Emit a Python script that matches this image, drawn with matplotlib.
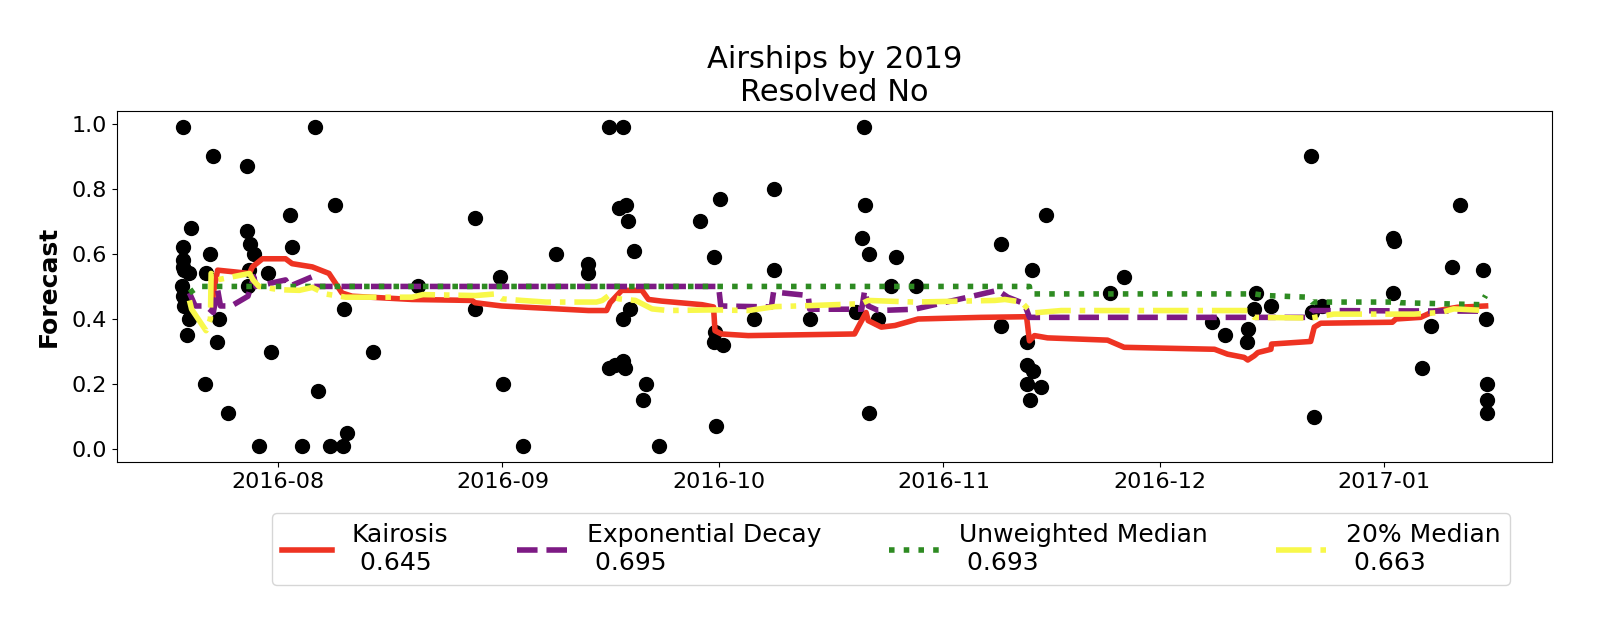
import matplotlib
matplotlib.use("Agg")
import matplotlib.pyplot as plt
import matplotlib.dates as mdates
import pandas as pd

# time axis is kept as days counted from 2016-08-01
start = pd.Timestamp("2016-08-01")

# individual forecasts (black dots)
fc_days = [-13.2, -13.2, -13.2, -13.2, -13.1, -13.3, -13.2, -13.0, -12.3, -12.6, -12.4, -12.1,
           -10.1, -10.0, -9.5, -9.1, -8.2, -8.5, -7.0,
           -4.4, -4.3, -3.9, -3.4, -4.0, -4.2, -2.7, -1.5, -1.0,
           1.6, 1.9, 3.3, 5.1, 5.5, 7.2, 7.9, 8.9, 9.1, 9.5, 13.1,
           19.3, 27.2, 27.2, 30.7, 31.1, 33.9, 38.4, 42.9, 42.9,
           45.7, 47.7, 47.1, 48.1, 48.3, 49.2, 48.7, 47.7,
           45.7, 46.6, 47.7, 47.9, 50.8, 50.4, 52.7,
           58.3, 60.2, 61.1, 60.4, 60.2, 61.5, 60.5, 65.8, 68.6, 68.6, 73.5,
           79.9, 80.7, 81.0, 81.1, 81.7, 81.7, 83.0, 85.4, 84.8, 88.2,
           99.9, 99.9, 103.6, 104.2, 106.2, 103.6, 104.4, 103.6, 105.5, 104.0,
           115.1, 117.0,
           129.2, 130.9, 134.1, 134.0, 135.2, 135.0, 137.3,
           142.8, 143.2, 143.0, 144.4,
           154.2, 154.3, 154.2, 158.2, 159.5, 162.4, 163.4,
           166.6, 167.0, 167.2, 167.2, 167.2]
fc_vals = [0.99, 0.62, 0.58, 0.56, 0.55, 0.50, 0.47, 0.44, 0.40, 0.35, 0.54, 0.68,
           0.20, 0.54, 0.60, 0.90, 0.40, 0.33, 0.11,
           0.87, 0.67, 0.63, 0.60, 0.55, 0.50, 0.01, 0.54, 0.30,
           0.72, 0.62, 0.01, 0.99, 0.18, 0.01, 0.75, 0.01, 0.43, 0.05, 0.30,
           0.50, 0.71, 0.43, 0.53, 0.20, 0.01, 0.60, 0.57, 0.54,
           0.99, 0.99, 0.74, 0.75, 0.70, 0.61, 0.43, 0.40,
           0.25, 0.26, 0.27, 0.25, 0.20, 0.15, 0.01,
           0.70, 0.59, 0.77, 0.36, 0.33, 0.32, 0.07, 0.40, 0.80, 0.55, 0.40,
           0.42, 0.65, 0.99, 0.75, 0.60, 0.11, 0.40, 0.59, 0.50, 0.50,
           0.63, 0.38, 0.33, 0.55, 0.72, 0.26, 0.24, 0.20, 0.19, 0.15,
           0.48, 0.53,
           0.39, 0.35, 0.37, 0.33, 0.48, 0.43, 0.44,
           0.90, 0.10, 0.42, 0.44,
           0.65, 0.64, 0.48, 0.25, 0.38, 0.56, 0.75,
           0.55, 0.40, 0.20, 0.15, 0.11]

# Kairosis
k_days = [-9.1, -9.0, -8.4, -4.0, -3.6, -2.2, 1.0, 1.9, 4.7, 7.0,
          7.6, 8.8, 10.2, 18.5, 26.8, 27.2, 30.9, 42.9, 45.4, 45.9,
          47.5, 50.3, 51.2, 53.0, 58.6, 60.2, 60.4, 61.3, 65.0, 79.7,
          80.2, 81.3, 81.6, 83.4, 85.3, 88.5, 97.2, 103.5, 103.9, 104.6,
          106.4, 114.7, 117.0, 129.5, 131.3, 133.6, 134.1, 135.0, 135.5, 137.3,
          137.4, 142.8, 143.3, 144.2, 154.1, 154.6, 158.0, 159.9, 163.1, 167.0]
k_vals = [0.44, 0.48, 0.55, 0.54, 0.56, 0.585, 0.585, 0.57, 0.56, 0.54,
          0.52, 0.48, 0.47, 0.46, 0.457, 0.45, 0.44, 0.426, 0.426, 0.45,
          0.488, 0.488, 0.46, 0.455, 0.444, 0.437, 0.364, 0.354, 0.349, 0.354,
          0.375, 0.42, 0.395, 0.375, 0.38, 0.40, 0.405, 0.407, 0.333, 0.349,
          0.342, 0.335, 0.313, 0.307, 0.292, 0.282, 0.274, 0.287, 0.297, 0.307,
          0.323, 0.331, 0.375, 0.387, 0.39, 0.40, 0.405, 0.424, 0.436, 0.44]

# Exponential Decay
e_days = [-12.3, -11.5, -10.0, -9.0, -8.4, -8.0, -6.5, -4.2, -3.4, -3.1,
          1.0, 1.5, 4.7, 4.9, 60.9, 61.2, 68.2, 68.5, 73.3, 73.5,
          80.7, 81.1, 81.6, 83.0, 88.0, 95.4, 99.5, 100.9, 103.2, 103.9,
          142.4, 143.0, 167.0]
e_vals = [0.48, 0.44, 0.44, 0.42, 0.49, 0.44, 0.44, 0.47, 0.53, 0.50,
          0.52, 0.50, 0.53, 0.50, 0.50, 0.44, 0.437, 0.483, 0.472, 0.43,
          0.43, 0.488, 0.44, 0.426, 0.43, 0.467, 0.488, 0.467, 0.447, 0.405,
          0.405, 0.426, 0.424]

# Unweighted Median
u_days = [-12.3, -11.0, -10.0, 103.9, 104.0, 135.0, 136.6, 142.4, 143.0, 154.8, 155.2, 166.3, 167.0]
u_vals = [0.48, 0.50, 0.50, 0.50, 0.477, 0.477, 0.472, 0.467, 0.452, 0.452, 0.45, 0.444, 0.472]

# 20% Median
m_days = [-12.3, -12.0, -10.0, -9.4, -9.3, -8.5, -4.0, -3.5, -2.7, 0.1,
          2.9, 4.7, 6.5, 9.3, 18.5, 20.0, 27.3, 30.0, 30.9, 33.7,
          37.0, 44.0, 44.8, 45.7, 47.1, 49.4, 50.3, 51.7, 53.9, 60.4,
          65.0, 68.7, 73.3, 80.7, 81.6, 88.0, 99.1, 100.5, 102.8, 103.9,
          104.6, 108.3, 134.1, 135.0, 142.8, 146.0, 157.1, 160.8, 162.6, 167.0]
m_vals = [0.457, 0.43, 0.364, 0.40, 0.54, 0.52, 0.54, 0.52, 0.50, 0.49,
          0.488, 0.497, 0.477, 0.467, 0.467, 0.475, 0.472, 0.477, 0.462, 0.457,
          0.452, 0.452, 0.457, 0.472, 0.462, 0.457, 0.447, 0.431, 0.426, 0.428,
          0.426, 0.438, 0.441, 0.447, 0.457, 0.452, 0.457, 0.46, 0.452, 0.426,
          0.419, 0.426, 0.426, 0.405, 0.403, 0.415, 0.415, 0.42, 0.431, 0.426]

labels = ["Kairosis\n 0.645", "Exponential Decay\n 0.695", "Unweighted Median\n 0.693", "20% Median\n 0.663"]


def to_dates(days):
    return start + pd.to_timedelta(days, unit="D")


fig = plt.figure(figsize=(16.2, 6.2), dpi=100)
ax = fig.add_axes([0.0722, 0.255, 0.886, 0.566])

ax.scatter(to_dates(fc_days), fc_vals, s=100, color="black", zorder=1)
ax.plot(to_dates(k_days), k_vals, color="#ee3322", lw=4, ls="-", label=labels[0], zorder=2)
ax.plot(to_dates(e_days), e_vals, color="#7d1a84", lw=4, ls="--", label=labels[1], zorder=3)
ax.plot(to_dates(u_days), u_vals, color="#2e8b22", lw=4, ls=":", label=labels[2], zorder=4)
ax.plot(to_dates(m_days), m_vals, color="#f8f84a", lw=4, ls="-.", label=labels[3], zorder=5)

ax.xaxis.set_major_locator(mdates.MonthLocator())
ax.xaxis.set_major_formatter(mdates.DateFormatter("%Y-%m"))
ax.tick_params(labelsize=16)

ax.set_title("Airships by 2019\nResolved No", fontsize=22, pad=7)
ax.set_ylabel("Forecast", fontsize=18, fontweight="bold")
ax.yaxis.set_label_coords(-0.0395, 0.5)

ax.legend(loc="upper left", bbox_to_anchor=(272 / 1620, 1 - 513 / 620),
          bbox_transform=fig.transFigure, borderaxespad=0, ncol=4,
          fontsize=18, columnspacing=2.72)

plt.savefig("out.png", dpi=100)
